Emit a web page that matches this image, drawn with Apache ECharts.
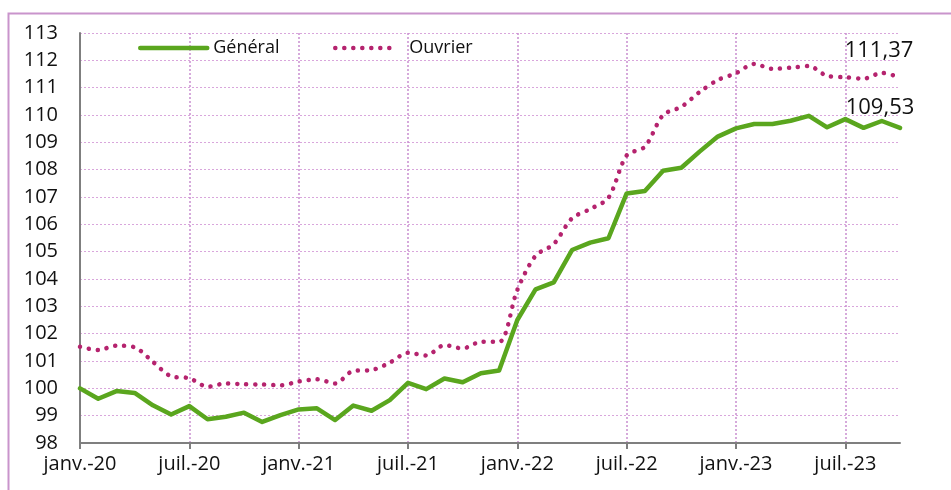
<!DOCTYPE html>
<html>
<head>
<meta charset="utf-8">
<script src="https://cdn.jsdelivr.net/npm/echarts@6/dist/echarts.min.js"></script>
<style>
html,body{margin:0;padding:0;background:#fff;}
#c{width:951px;height:490px;}
</style>
</head>
<body>
<div id="c"></div>
<script>
const monthNames = ['janv.','févr.','mars','avr.','mai','juin','juil.','août','sept.','oct.','nov.','déc.'];
const years = ['20','21','22','23'];
const categories = [];
years.forEach(y => monthNames.forEach(m => categories.push(m + '-' + y)));
categories.length = 46; // janv.-20 .. oct.-23

const general = [
  100.00, 99.62, 99.90, 99.83, 99.38, 99.04, 99.35, 98.87, 98.96, 99.11, 98.77, 99.02,
  99.23, 99.27, 98.84, 99.37, 99.18, 99.57, 100.20, 99.97, 100.36, 100.22, 100.55, 100.65,
  102.50, 103.62, 103.88, 105.06, 105.33, 105.49, 107.13, 107.22, 107.96, 108.07, 108.66, 109.21,
  109.51, 109.67, 109.67, 109.79, 109.97, 109.55, 109.85, 109.53, 109.78, 109.53
];
const ouvrier = [
  101.52, 101.40, 101.56, 101.50, 100.97, 100.44, 100.37, 100.06, 100.18, 100.15, 100.14, 100.11,
  100.25, 100.33, 100.18, 100.64, 100.67, 100.94, 101.30, 101.20, 101.58, 101.46, 101.70, 101.70,
  103.60, 104.85, 105.28, 106.22, 106.56, 106.97, 108.52, 108.84, 110.00, 110.30, 110.84, 111.28,
  111.53, 111.87, 111.69, 111.73, 111.79, 111.43, 111.38, 111.33, 111.54, 111.37
];
const seriesNames = ['Général', 'Ouvrier'];
const yMin = 98, yMax = 113, yStep = 1;

const FONT = 'Open Sans';
const fmt = v => v.toFixed(2).replace('.', ',');
const GREEN = '#5aa61e', PINK = '#b5236e';
const DOTS = [0.1, 8.9];

function lastMark(arr, offset) {
  const i = arr.length - 1;
  return {
    silent: true, symbol: 'circle', symbolSize: 2,
    itemStyle: { color: 'rgba(0,0,0,0)' },
    label: { show: true, position: 'top', distance: 0, offset: offset,
      formatter: () => fmt(arr[i]),
      fontFamily: FONT, fontSize: 22, color: '#111' },
    data: [{ coord: [i, arr[i]], value: arr[i] }]
  };
}

const chart = echarts.init(document.getElementById('c'), null, { renderer: 'canvas' });
chart.setOption({
  animation: false,
  backgroundColor: '#fff',
  graphic: [{
    type: 'rect', left: 6, top: 11, silent: true,
    shape: { x: 0, y: 0, width: 1000, height: 600 },
    style: { fill: 'none', stroke: '#c994cc', lineWidth: 2 }
  }],
  grid: { left: 80, right: 51, top: 33, bottom: 47, containLabel: false },
  legend: [
    { data: [seriesNames[0]], left: 138, top: 39, padding: 0, itemWidth: 67, itemHeight: 20,
      itemStyle: { opacity: 0 },
      lineStyle: { width: 4.5, color: GREEN, cap: 'round' },
      textStyle: { fontFamily: FONT, fontSize: 18, color: '#111', padding: [0, 0, 0, 1] } },
    { data: [seriesNames[1]], left: 333, top: 39, padding: 0, itemWidth: 58, itemHeight: 20,
      itemStyle: { opacity: 0 },
      lineStyle: { width: 4.5, color: PINK, type: DOTS, cap: 'round' },
      textStyle: { fontFamily: FONT, fontSize: 18, color: '#111', padding: [0, 0, 0, 11] } }
  ],
  xAxis: {
    type: 'category', data: categories, boundaryGap: false,
    axisLine: { lineStyle: { color: '#7f7f7f', width: 2 } },
    axisTick: { show: true, interval: 5, length: 6, lineStyle: { color: '#7f7f7f', width: 2 } },
    axisLabel: { interval: 5, margin: 11, fontFamily: FONT, fontSize: 20, color: '#111' },
    splitLine: { show: true, interval: 5, lineStyle: { color: '#c98fcf', type: [2, 2], width: 1.5 } }
  },
  yAxis: {
    type: 'value', min: yMin, max: yMax, interval: yStep,
    axisLine: { show: true, lineStyle: { color: '#7f7f7f', width: 2 } },
    axisTick: { show: false },
    axisLabel: { margin: 22, fontFamily: FONT, fontSize: 20, color: '#111' },
    splitLine: { show: true, lineStyle: { color: '#d9a6dc', type: [2, 2], width: 1 } }
  },
  series: [
    { name: seriesNames[0], type: 'line', data: general,
      showSymbol: false, symbol: 'none', color: GREEN,
      lineStyle: { color: GREEN, width: 4.5, join: 'round', cap: 'round' }, z: 3,
      markPoint: lastMark(general, [-20, -8]) },
    { name: seriesNames[1], type: 'line', data: ouvrier,
      showSymbol: false, symbol: 'none', smooth: 0.3, color: PINK,
      lineStyle: { color: PINK, width: 4.5, type: DOTS, cap: 'round' }, z: 2,
      markPoint: lastMark(ouvrier, [-21, -15]) }
  ]
});
</script>
</body>
</html>
